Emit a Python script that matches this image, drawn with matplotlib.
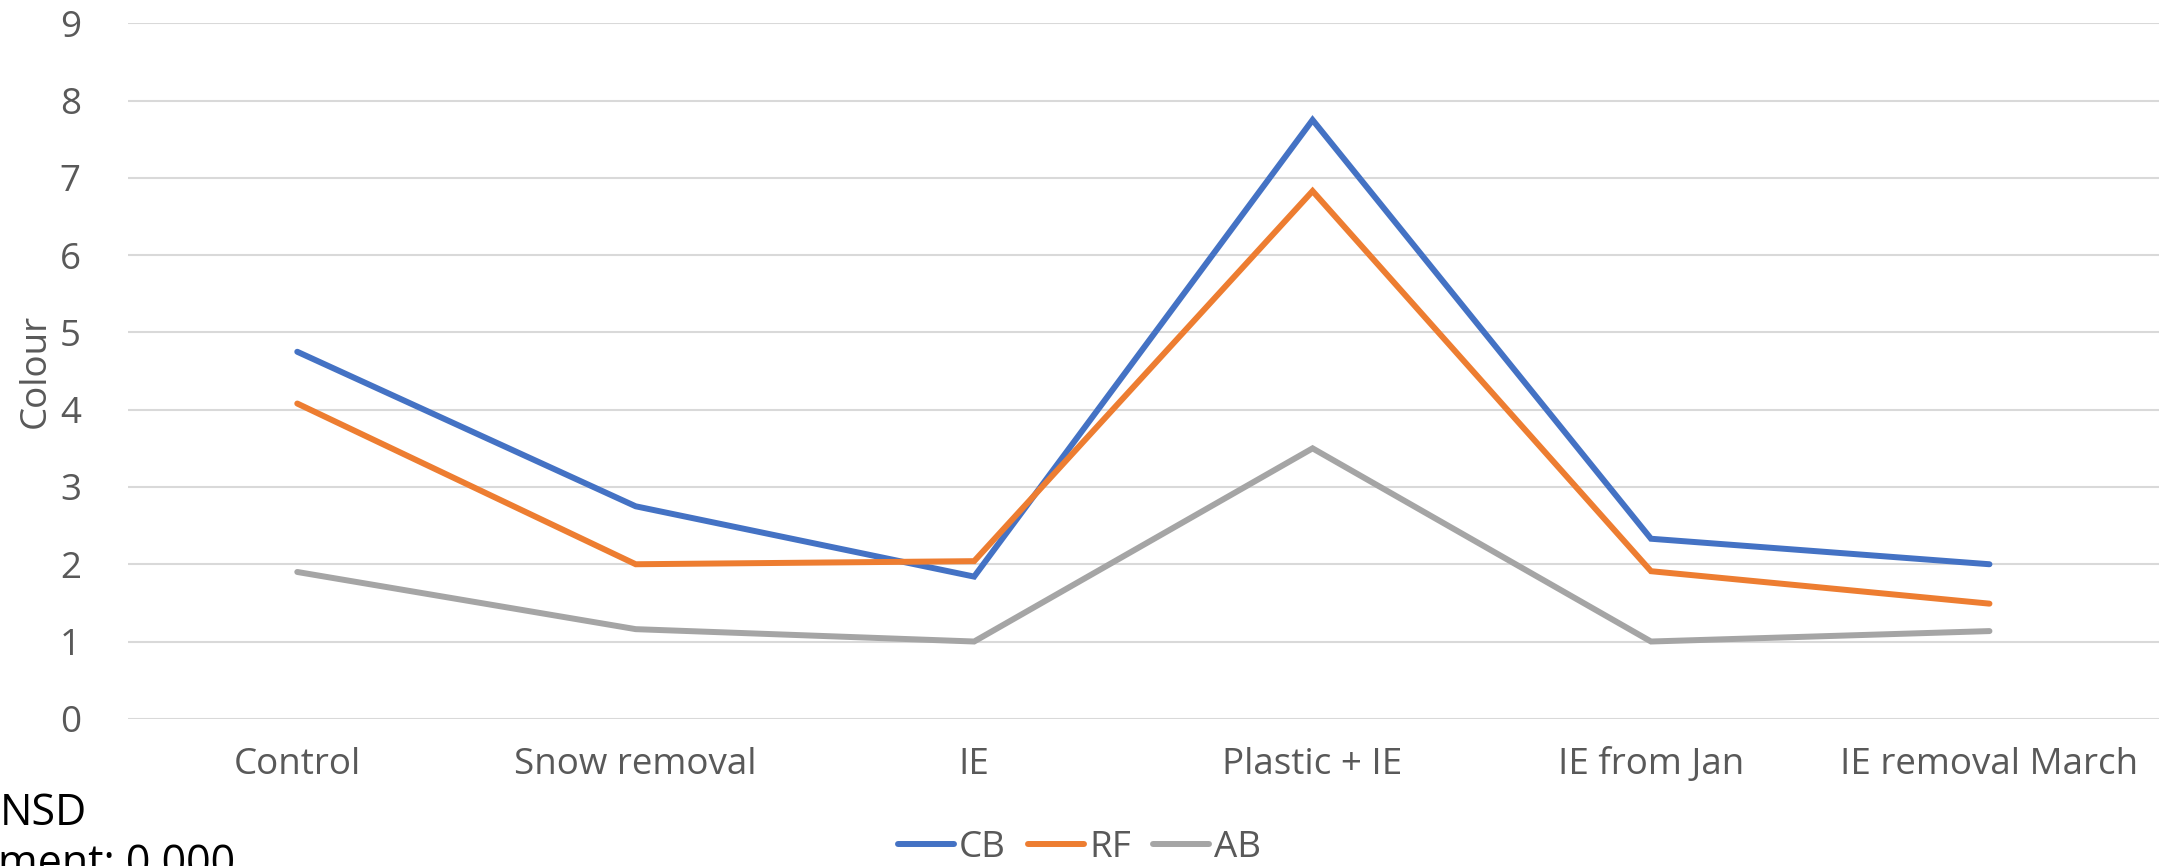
import matplotlib
matplotlib.use("Agg")
import matplotlib.pyplot as plt
import numpy as np

categories = ["Control", "Snow removal", "IE", "Plastic + IE", "IE from Jan", "IE removal March"]
cb = [4.75, 2.75, 1.84, 7.75, 2.33, 2.0]
rf = [4.08, 2.0, 2.04, 6.83, 1.91, 1.49]
ab = [1.9, 1.16, 1.0, 3.5, 1.0, 1.135]
series = {"CB": (cb, "#4472C4"), "RF": (rf, "#ED7D31"), "AB": (ab, "#A5A5A5")}

plt.rcParams['font.family'] = ['Open Sans', 'DejaVu Sans']

fig = plt.figure(figsize=(21.63, 8.66), dpi=100)
ax = fig.add_axes([0.0592, 0.170, 0.9388, 0.803])

x = np.arange(len(categories))
for name, (vals, col) in series.items():
    ax.plot(x, vals, color=col, lw=4.3, label=name, solid_capstyle='round', solid_joinstyle='miter')

ax.set_xlim(-0.5, len(categories) - 0.5)
ax.set_ylim(0, 9)
ax.set_yticks(range(0, 10))
ax.set_xticks(x)
ax.set_xticklabels(categories)
ax.tick_params(axis='both', length=0, labelsize=26.5, labelcolor='#595959')
ax.tick_params(axis='x', pad=20)
ax.tick_params(axis='y', pad=34)
ax.grid(axis='y', color='#D9D9D9', lw=1.5)
ax.set_axisbelow(True)
for s in ax.spines.values():
    s.set_visible(False)
ax.set_ylabel("Colour", fontsize=26.5, color='#595959', labelpad=4)

leg = fig.legend(loc='center', bbox_to_anchor=(0.499, 0.021), ncol=3, frameon=False,
                 fontsize=26.5, handlelength=1.52, handletextpad=0.14, columnspacing=0.6)
for t in leg.get_texts():
    t.set_color('#595959')
for h in leg.legend_handles:
    h.set_solid_capstyle('round')

fig.text(0.0, 0.0474, "NSD", fontsize=31, color='black', ha='left', va='baseline')
fig.text(-0.001, -0.012, "ment: 0.000", fontsize=31, color='black', ha='left', va='baseline')

fig.savefig("out.png", dpi=100)
